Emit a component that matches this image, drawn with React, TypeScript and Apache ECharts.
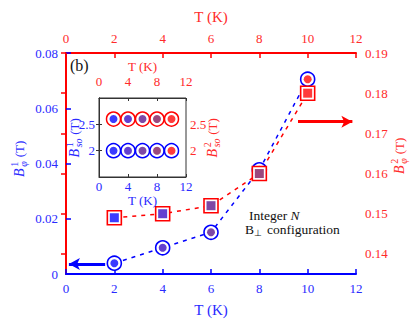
import React, { useEffect, useRef } from 'react';
import * as echarts from 'echarts';

// ---- data ----
const temps = [2, 4, 6, 8, 10];
const bPhi1 = [0.0039, 0.0095, 0.0151, 0.0377, 0.0705];
const bPhi2 = [0.149, 0.150, 0.152, 0.160, 0.180];
const insetTemps = [2, 4, 6, 8, 10];
const bSo1 = [2.0, 2.0, 2.0, 2.0, 2.0];
const bSo2 = [2.6, 2.6, 2.6, 2.6, 2.6];
const rightTicks = [0.14, 0.15, 0.16, 0.17, 0.18, 0.19];
const insetYTicks = [2, 2.5];
const blueArrow = [[1.62, 0.0036], [0.12, 0.0036]];
const redArrow = [[9.6, 0.1729], [11.85, 0.1729]];

// ---- styles ----
const FAMILY = 'Liberation Serif';
const BLUE = '#0000ff';
const RED = '#ff0000';
const BLUE_TXT = '#2a2aff';
const RED_TXT = '#ff2a2a';
const FILLS = ['#0a0aff', '#3c10c4', '#5e1a8e', '#821a5c', '#ff0a0a'];

const pts = (xs: number[], ys: number[]) => xs.map((x, i) => [x, ys[i]]);
const colored = (xs: number[], ys: number[]) =>
  xs.map((x, i) => ({ value: [x, ys[i]], itemStyle: { color: FILLS[i] } }));

function txt(x: number, y: number, text: string, size: number, fill: string, italic = false) {
  return {
    type: 'text',
    x,
    y,
    style: {
      text, fill, fontSize: size, fontFamily: FAMILY, fontStyle: italic ? 'italic' : 'normal',
      align: 'left', verticalAlign: 'middle', textAlign: 'left', textVerticalAlign: 'middle',
    },
  };
}

function rotLabel(cx: number, cy: number, sup: string, sub: string, color: string, big: number, small: number) {
  const wB = big * 0.72;
  const wS = small * (sub.length > 1 ? 0.9 : 0.6);
  const gap = big * 0.25;
  const wT = big * 1.3;
  const total = wB + wS + gap + wT;
  const x0 = -total / 2;
  return {
    type: 'group',
    x: cx,
    y: cy,
    rotation: Math.PI / 2,
    children: [
      txt(x0, 0, 'B', big, color, true),
      txt(x0 + wB, -big * 0.33, sup, small, color),
      txt(x0 + wB, big * 0.3, sub, small, color, true),
      txt(x0 + wB + wS + gap, 0, '(T)', big - 1, color),
    ],
  };
}

function xAxisCfg(grid: number, pos: string, color: string, txtColor: string, interval: number, opts: any) {
  return {
    type: 'value',
    gridIndex: grid,
    position: pos,
    min: 0,
    max: 12,
    interval,
    name: 'T (K)',
    nameLocation: 'middle',
    nameGap: opts.nameGap,
    nameTextStyle: { color: txtColor, fontFamily: FAMILY, fontSize: opts.nameSize },
    axisLine: { show: true, onZero: false, lineStyle: { color: opts.lineColor || color, width: opts.lineWidth } },
    axisTick: { show: true, inside: true, length: opts.tickLen, lineStyle: { color: opts.lineColor || color, width: opts.tickWidth } },
    axisLabel: { show: true, color: txtColor, fontFamily: FAMILY, fontSize: opts.labelSize, margin: opts.margin, showMinLabel: true, showMaxLabel: true, hideOverlap: false },
    splitLine: { show: false },
  };
}

export default function App() {
  const ref = useRef<HTMLDivElement>(null);
  useEffect(() => {
    if (!ref.current) return;
    const chart = echarts.init(ref.current, undefined, { renderer: 'svg' });
    const main = { lineWidth: 2, tickLen: 5, tickWidth: 1.5, labelSize: 13, nameSize: 15, margin: 8, nameGap: 28 };
    const inset = { lineWidth: 1, tickLen: 3, tickWidth: 1, labelSize: 13, nameSize: 13, lineColor: '#333' };
    const insetY = (pos: string, color: string) => ({
      type: 'value', gridIndex: 1, position: pos, min: 1.5, max: 3, z: 11,
      axisLine: { show: true, lineStyle: { color: '#333', width: 1 } },
      axisTick: { show: true, inside: false, length: 3, customValues: insetYTicks, lineStyle: { color: '#333', width: 1 } },
      axisLabel: { color, fontFamily: FAMILY, fontSize: 13, margin: 4, customValues: insetYTicks,
        formatter: (v: number) => String(v) },
      splitLine: { show: false },
    });
    const option: any = {
      animation: false,
      backgroundColor: '#fff',
      grid: [
        { left: 66, top: 53, width: 290, height: 221, show: false },
        { left: 99, top: 98, width: 87, height: 79, show: true, borderColor: '#333', borderWidth: 1, backgroundColor: '#fff', z: 10 },
      ],
      xAxis: [
        xAxisCfg(0, 'bottom', BLUE, BLUE_TXT, 2, main),
        xAxisCfg(0, 'top', RED, RED_TXT, 2, { ...main, nameGap: 29 }),
        { ...xAxisCfg(1, 'bottom', BLUE, BLUE_TXT, 4, { ...inset, margin: 3, nameGap: 13 }), z: 11 },
        { ...xAxisCfg(1, 'top', RED, RED_TXT, 4, { ...inset, margin: 10, nameGap: 25 }), z: 11 },
      ],
      yAxis: [
        {
          type: 'value', gridIndex: 0, position: 'left', min: 0, max: 0.08, interval: 0.02,
          axisLine: { show: true, lineStyle: { color: BLUE, width: 2 } },
          axisTick: { show: true, inside: true, length: 5, lineStyle: { color: BLUE, width: 1.5 } },
          axisLabel: { color: BLUE_TXT, fontFamily: FAMILY, fontSize: 13, margin: 8, showMinLabel: true, showMaxLabel: true,
            formatter: (v: number) => (v === 0 ? '0' : v.toFixed(2)) },
          splitLine: { show: false },
        },
        {
          type: 'value', gridIndex: 0, position: 'right', min: 0.135, max: 0.19,
          axisLine: { show: true, lineStyle: { color: RED, width: 2 } },
          axisTick: { show: true, inside: true, length: 5, customValues: rightTicks, lineStyle: { color: RED, width: 1.5 } },
          axisLabel: { color: RED_TXT, fontFamily: FAMILY, fontSize: 13, margin: 9, customValues: rightTicks,
            formatter: (v: number) => v.toFixed(2) },
          splitLine: { show: false },
        },
        insetY('left', BLUE_TXT),
        insetY('right', RED_TXT),
      ],
      series: [
        {
          type: 'line', xAxisIndex: 0, yAxisIndex: 0, data: pts(temps, bPhi1), symbol: 'none', z: 2,
          lineStyle: { color: BLUE, width: 1.5, type: [4, 5] },
          markLine: {
            silent: true, symbol: ['none', 'arrow'], symbolSize: [9, 11], label: { show: false },
            lineStyle: { color: BLUE, width: 3, type: 'solid' },
            data: [[{ coord: blueArrow[0] }, { coord: blueArrow[1] }]],
          },
        },
        {
          type: 'line', xAxisIndex: 1, yAxisIndex: 1, data: pts(temps, bPhi2), symbol: 'none', z: 2,
          lineStyle: { color: RED, width: 1.5, type: [4, 5] },
          markLine: {
            silent: true, symbol: ['none', 'arrow'], symbolSize: [9, 11], label: { show: false },
            lineStyle: { color: RED, width: 3, type: 'solid' },
            data: [[{ coord: redArrow[0] }, { coord: redArrow[1] }]],
          },
        },
        {
          type: 'scatter', xAxisIndex: 0, yAxisIndex: 0, data: pts(temps, bPhi1), symbol: 'circle', symbolSize: 14, z: 3,
          itemStyle: { color: '#fff', borderColor: BLUE, borderWidth: 1.6, opacity: 1 },
        },
        {
          type: 'scatter', xAxisIndex: 0, yAxisIndex: 0, data: colored(temps, bPhi1), symbol: 'circle', symbolSize: 8, z: 4,
        },
        {
          type: 'scatter', xAxisIndex: 1, yAxisIndex: 1, data: pts(temps, bPhi2), symbol: 'rect', symbolSize: 14, z: 5,
          itemStyle: { color: '#fff', borderColor: RED, borderWidth: 1.6, opacity: 1 },
        },
        {
          type: 'scatter', xAxisIndex: 1, yAxisIndex: 1, data: colored(temps, bPhi2), symbol: 'rect', symbolSize: 9, z: 6,
        },
        {
          type: 'scatter', xAxisIndex: 2, yAxisIndex: 2, data: pts(insetTemps, bSo1), symbol: 'circle', symbolSize: 14, z: 12,
          itemStyle: { color: '#fff', borderColor: BLUE, borderWidth: 1.5, opacity: 1 },
        },
        {
          type: 'scatter', xAxisIndex: 2, yAxisIndex: 2, data: colored(insetTemps, bSo1), symbol: 'circle', symbolSize: 8, z: 13,
        },
        {
          type: 'scatter', xAxisIndex: 3, yAxisIndex: 3, data: pts(insetTemps, bSo2), symbol: 'circle', symbolSize: 14, z: 12,
          itemStyle: { color: '#fff', borderColor: RED, borderWidth: 1.5, opacity: 1 },
        },
        {
          type: 'scatter', xAxisIndex: 3, yAxisIndex: 3, data: colored(insetTemps, bSo2), symbol: 'circle', symbolSize: 8, z: 13,
        },
      ],
      graphic: [
        txt(70, 65, '(b)', 16, '#111'),
        {
          type: 'text', x: 249, y: 215,
          style: {
            text: '{r|Integer }{i|N}', fill: '#111', fontSize: 13.5, fontFamily: FAMILY,
            verticalAlign: 'middle', textVerticalAlign: 'middle',
            rich: {
              r: { fontSize: 13.5, fontFamily: FAMILY, fill: '#111', color: '#111' },
              i: { fontSize: 13.5, fontFamily: FAMILY, fontStyle: 'italic', fill: '#111', color: '#111' },
            },
          },
        },
        txt(245, 229, 'B', 13.5, '#111'),
        txt(254, 233, '⊥', 9, '#111'),
        txt(267, 229, 'configuration', 13.5, '#111'),
        rotLabel(19, 158, '1', 'φ', BLUE_TXT, 14, 10),
        rotLabel(399, 155, '2', 'φ', RED_TXT, 14, 10),
        { ...rotLabel(74, 137, '1', 'so', BLUE_TXT, 14, 10), z: 20 },
        { ...rotLabel(212, 137, '2', 'so', RED_TXT, 14, 10), z: 20 },
      ],
    };
    chart.setOption(option);
    return () => chart.dispose();
  }, []);
  return <div ref={ref} style={{ width: 414, height: 327, position: 'absolute', left: 0, top: 0 }} />;
}
